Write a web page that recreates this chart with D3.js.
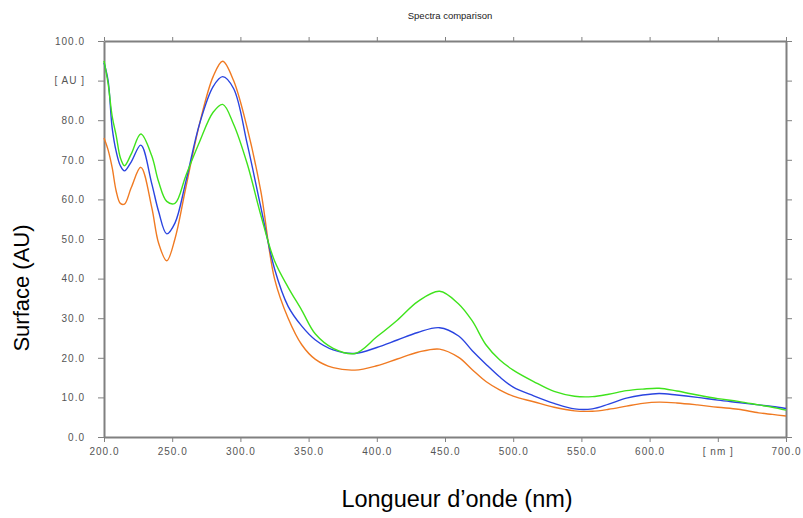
<!DOCTYPE html>
<html>
<head>
<meta charset="utf-8">
<script src="https://cdn.jsdelivr.net/npm/d3@7"></script>
<style>
  body { margin: 0; background: #fff; }
  svg { display: block; font-family: "Liberation Sans", Arial, sans-serif; }
  .tick-label { font-size: 10px; fill: #555; letter-spacing: 1px; }
</style>
</head>
<body>
<svg id="chart"></svg>
<script>
// wavelengths (nm) shared by the three spectra
const wavelengths = [200, 203, 206, 209, 212, 215, 220, 227, 235, 240, 246, 252, 260, 270, 280, 287, 295, 305, 315, 325, 335, 345, 355, 368, 384, 400, 415, 430, 446, 460, 470, 480, 490, 500, 515, 530, 545, 558, 570, 583, 595, 607, 620, 635, 650, 665, 680, 690, 700];

const blueSpectrum = [94.5, 90, 78, 72, 68.5, 67.2, 69.5, 73.7, 64, 57, 51.3, 54, 64.5, 79, 88.5, 91, 88, 74, 58, 42.5, 33, 28, 24.5, 22, 21.1, 22.6, 24.5, 26.4, 27.6, 25.5, 21.8, 18.4, 15.2, 12.6, 10.4, 8.5, 7.1, 7.1, 8.3, 9.8, 10.6, 11.0, 10.6, 10.0, 9.3, 8.7, 8.1, 7.7, 7.2];
const orangeSpectrum = [75.5, 72.5, 68, 62, 59, 58.8, 63, 68.1, 58, 49, 44.5, 50, 63, 79, 91, 94.9, 90, 78, 62, 40, 30, 23.3, 19.6, 17.5, 16.9, 18, 19.7, 21.4, 22.2, 20.1, 17, 14, 11.9, 10.3, 8.9, 7.5, 6.6, 6.5, 7.0, 7.8, 8.5, 8.8, 8.6, 8.1, 7.5, 7.0, 6.1, 5.7, 5.3];
const greenSpectrum = [95, 89.3, 81, 76, 70.5, 68.5, 71.5, 76.5, 71, 64.5, 59.5, 59, 66, 74.5, 82, 84, 79, 69, 56, 44.5, 37.8, 32, 26, 22.4, 21.1, 25.3, 29.5, 34.2, 36.8, 33.6, 29.3, 23.3, 19.5, 16.9, 14.0, 11.5, 10.3, 10.2, 10.8, 11.7, 12.1, 12.3, 11.6, 10.6, 9.7, 9.0, 8.1, 7.5, 6.8];

const xTicks = [200, 250, 300, 350, 400, 450, 500, 550, 600, 650, 700];
const xTickLabels = ["200.0", "250.0", "300.0", "350.0", "400.0", "450.0", "500.0", "550.0", "600.0", "[ nm ]", "700.0"];
const yTicks = [0, 10, 20, 30, 40, 50, 60, 70, 80, 90, 100];
const yTickLabels = ["0.0", "10.0", "20.0", "30.0", "40.0", "50.0", "60.0", "70.0", "80.0", "[ AU ]", "100.0"];

const series = [
  {name: "orange", values: orangeSpectrum, color: "#f07a22"},
  {name: "blue", values: blueSpectrum, color: "#2a44e0"},
  {name: "green", values: greenSpectrum, color: "#3fe31c"}
];

const W = 803, H = 518;
const margin = {top: 41, right: 17, bottom: 81, left: 104};
const width = W - margin.left - margin.right;
const height = H - margin.top - margin.bottom;

const svg = d3.select('#chart').attr('width', W).attr('height', H);
const g = svg.append('g').attr('transform', `translate(${margin.left},${margin.top})`);

const xscale = d3.scaleLinear().domain([200, 700]).range([0, width]);
const yscale = d3.scaleLinear().domain([0, 100]).range([height, 0]);

// axes: bottom + left with labels, top + right as plain frame with ticks
function styleAxis(sel) {
  sel.select('.domain').attr('stroke', '#808080').attr('stroke-width', 2);
  sel.selectAll('.tick line').attr('stroke', '#808080').attr('stroke-width', 1);
  sel.selectAll('.tick text').attr('class', 'tick-label');
}

const xaxis = d3.axisBottom(xscale).tickValues(xTicks)
  .tickFormat((d, i) => xTickLabels[i]).tickSizeInner(5).tickSizeOuter(0).tickPadding(6);
g.append('g').attr('transform', `translate(0,${height})`).call(xaxis).call(styleAxis);

const yaxis = d3.axisLeft(yscale).tickValues(yTicks)
  .tickFormat((d, i) => yTickLabels[i]).tickSizeInner(6).tickSizeOuter(0).tickPadding(13);
g.append('g').call(yaxis).call(styleAxis);

const topaxis = d3.axisTop(xscale).tickValues(xTicks).tickFormat('').tickSizeInner(4).tickSizeOuter(0);
g.append('g').call(topaxis).call(styleAxis);

const rightaxis = d3.axisRight(yscale).tickValues(yTicks).tickFormat('').tickSizeInner(6).tickSizeOuter(0);
g.append('g').attr('transform', `translate(${width},0)`).call(rightaxis).call(styleAxis);

// spectra
const line = d3.line()
  .x((d, i) => xscale(wavelengths[i]))
  .y((d) => yscale(d))
  .curve(d3.curveCatmullRom.alpha(0.5));

g.selectAll('path.spectrum').data(series).enter().append('path')
  .attr('class', 'spectrum')
  .attr('fill', 'none')
  .attr('stroke', (d) => d.color)
  .attr('stroke-width', 1.4)
  .attr('d', (d) => line(d.values));

// titles
svg.append('text').attr('x', 450).attr('y', 19).attr('text-anchor', 'middle')
  .style('font-size', '9.5px').style('fill', '#222').text('Spectra comparison');

svg.append('text').attr('x', 457).attr('y', 507).attr('text-anchor', 'middle')
  .style('font-size', '23.5px').style('fill', '#000').text('Longueur d\u2019onde (nm)');

svg.append('text').attr('transform', 'translate(29,288) rotate(-90)').attr('text-anchor', 'middle')
  .style('font-size', '22px').style('fill', '#000').text('Surface (AU)');
</script>
</body>
</html>
